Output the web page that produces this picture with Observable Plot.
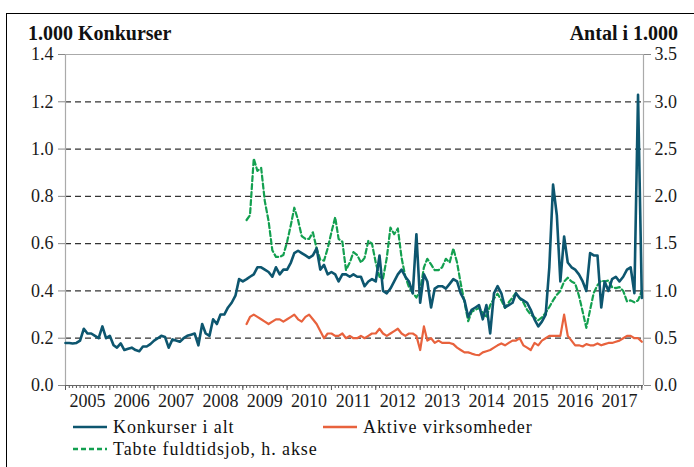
<!DOCTYPE html>
<html><head><meta charset="utf-8">
<script src="https://cdn.jsdelivr.net/npm/d3@7"></script>
<script src="https://cdn.jsdelivr.net/npm/@observablehq/plot@0.6"></script>
<style>
body{margin:0;background:#fff;}
#wrap{position:relative;width:694px;height:467px;overflow:hidden;font-family:"Liberation Serif","Times New Roman",Tinos,"DejaVu Serif",serif;color:#111;}
#frame{position:absolute;left:6px;top:13px;width:720px;height:480px;border-top:1.5px solid #000;border-left:1.5px solid #000;}
.title{position:absolute;font-weight:bold;font-size:20px;top:23px;line-height:20px;white-space:nowrap;}
#chart{position:absolute;left:0;top:0;}
.leg{position:absolute;font-size:18px;letter-spacing:0.9px;display:flex;align-items:center;white-space:nowrap;line-height:18px;}
.leg svg{margin-right:6px;}
</style></head><body>
<div id="wrap">
  <div id="frame"></div>
  <div class="title" style="left:28px;">1.000 Konkurser</div>
  <div class="title" style="right:16px;">Antal i 1.000</div>
  <div id="chart"></div>
  <div id="legend"></div>
</div>
<script>
// ---- data (monthly) ----
const konkurserStart = "2005-01";
const konkurser = [
0.18,0.18,0.178,0.18,0.19,0.24,0.22,0.22,0.21,0.2,
0.25,0.2,0.21,0.17,0.16,0.178,0.15,0.155,0.16,0.15,
0.145,0.165,0.165,0.175,0.19,0.2,0.21,0.205,0.16,0.195,
0.19,0.185,0.2,0.21,0.215,0.22,0.17,0.26,0.22,0.21,
0.28,0.26,0.3,0.3,0.33,0.35,0.38,0.45,0.44,0.45,
0.46,0.47,0.5,0.5,0.49,0.48,0.46,0.5,0.47,0.49,
0.49,0.52,0.56,0.57,0.56,0.55,0.54,0.55,0.58,0.49,
0.51,0.47,0.48,0.47,0.44,0.47,0.47,0.46,0.47,0.46,
0.46,0.42,0.44,0.45,0.44,0.55,0.4,0.39,0.41,0.44,
0.47,0.49,0.46,0.44,0.39,0.64,0.35,0.47,0.44,0.33,
0.41,0.42,0.42,0.41,0.43,0.45,0.44,0.39,0.36,0.29,
0.32,0.33,0.34,0.28,0.34,0.22,0.39,0.42,0.39,0.33,
0.34,0.35,0.39,0.37,0.36,0.35,0.32,0.28,0.25,0.27,
0.3,0.5,0.85,0.72,0.44,0.63,0.52,0.5,0.49,0.47,
0.44,0.4,0.56,0.55,0.55,0.33,0.44,0.4,0.45,0.46,
0.44,0.46,0.49,0.5,0.39,1.23,0.37
];
const aktiveStart = "2009-02";
const aktive = [
0.26,0.29,0.3,0.29,0.28,0.27,0.26,0.27,0.28,0.28,
0.27,0.28,0.29,0.3,0.28,0.27,0.29,0.3,0.28,0.26,
0.23,0.2,0.22,0.22,0.21,0.21,0.22,0.2,0.21,0.2,
0.2,0.21,0.2,0.21,0.22,0.22,0.24,0.22,0.21,0.22,
0.23,0.24,0.22,0.21,0.22,0.22,0.21,0.15,0.25,0.19,
0.2,0.18,0.19,0.18,0.18,0.18,0.175,0.16,0.15,0.14,
0.14,0.135,0.13,0.128,0.14,0.145,0.15,0.16,0.17,0.178,
0.17,0.18,0.19,0.19,0.2,0.17,0.16,0.15,0.18,0.17,
0.19,0.2,0.21,0.21,0.21,0.21,0.3,0.21,0.19,0.17,
0.17,0.165,0.175,0.17,0.17,0.178,0.17,0.175,0.18,0.18,
0.185,0.19,0.2,0.21,0.21,0.2,0.2,0.185
];
const tabteStart = "2009-02";
const tabte = [ // right axis (antal i 1.000)
1.75,1.8,2.4,2.27,2.3,1.95,1.74,1.43,1.36,1.36,
1.38,1.52,1.7,1.88,1.75,1.58,1.55,1.55,1.62,1.45,
1.33,1.32,1.45,1.62,1.78,1.55,1.52,1.22,1.3,1.41,
1.38,1.3,1.35,1.53,1.5,1.3,1.15,1.13,1.35,1.67,
1.6,1.66,1.35,1.15,1.04,0.98,0.93,1.0,1.25,1.34,
1.28,1.22,1.22,1.25,1.34,1.3,1.45,1.3,1.08,0.88,
0.68,0.78,0.8,0.82,0.77,0.72,0.85,0.92,0.97,0.9,
0.82,0.88,0.93,0.98,0.92,0.88,0.8,0.75,0.72,0.69,
0.72,0.77,0.83,0.9,0.96,1.0,1.1,1.14,1.1,1.08,
0.95,0.78,0.61,0.8,0.98,1.06,1.11,1.1,1.11,1.04,
1.03,1.04,1.0,0.89,0.9,0.88,0.9,1.0
];
const yearLabels = ["2005","2006","2007","2008","2009","2010","2011","2012","2013","2014","2015","2016","2017"];
const leftTicks = [0, 0.2, 0.4, 0.6, 0.8, 1.0, 1.2, 1.4];
const rightPerLeft = 2.5; // 3.5 on right axis == 1.4 on left axis
const seriesNames = ["Konkurser i alt", "Aktive virksomheder", "Tabte fuldtidsjob, h. akse"];
const colors = ["#0d566f", "#e8623d", "#13a050"];

// ---- build tables ----
const parseM = d3.utcParse("%Y-%m");
function table(startStr, values) {
  const s = parseM(startStr);
  return values.map((v, i) => ({date: d3.utcMonth.offset(s, i), value: v}));
}
const kData = table(konkurserStart, konkurser);
const aData = table(aktiveStart, aktive);
const tData = table(tabteStart, tabte);

const xDomain = [new Date(Date.UTC(2005,0,1)), new Date(Date.UTC(2018,0,15))];
const monthTicks = d3.utcMonth.range(xDomain[0], xDomain[1]);
const yearTicks = d3.utcYear.range(xDomain[0], xDomain[1]);
const labelDates = yearLabels.map(y => new Date(Date.UTC(+y, 6, 1)));
const FONT = '"Liberation Serif","Times New Roman",Tinos,"DejaVu Serif",serif';

const chart = Plot.plot({
  width: 694, height: 420,
  marginLeft: 65, marginRight: 51, marginTop: 54, marginBottom: 35,
  style: {fontFamily: FONT, fontSize: "18px", color: "#1a1a1a", background: "transparent"},
  x: {type: "utc", domain: xDomain},
  y: {domain: [0, 1.4]},
  marks: [
    Plot.ruleY(leftTicks.filter(d => d > 0 && d < 1.4), {stroke: "#333", strokeWidth: 1.2, strokeDasharray: "6,4"}),
    Plot.ruleY([1.4], {stroke: "#aaa"}),
    Plot.ruleX(xDomain, {stroke: "#aaa", strokeWidth: 1.2}),
    Plot.axisY(leftTicks, {anchor: "left", label: null, tickFormat: d => d.toFixed(1), tickSize: 7, tickPadding: 5, stroke: "#888", fill: "#1a1a1a"}),
    Plot.axisY(leftTicks, {anchor: "right", label: null, tickFormat: d => (d * rightPerLeft).toFixed(1), tickSize: 7, tickPadding: 4, stroke: "#888", fill: "#1a1a1a"}),
    Plot.axisX(monthTicks, {label: null, tickSize: 3, tickFormat: () => "", stroke: "#555"}),
    Plot.axisX(yearTicks, {label: null, tickSize: 5, tickFormat: () => "", stroke: "#555"}),
    Plot.axisX(labelDates, {label: null, tickSize: 0, tickPadding: 9, tickFormat: d3.utcFormat("%Y"), fill: "#1a1a1a"}),
    Plot.ruleY([0], {stroke: "#666", strokeWidth: 1.2}),
    Plot.line(tData, {x: "date", y: d => d.value / rightPerLeft, stroke: colors[2], strokeWidth: 2.2, strokeDasharray: "5,3"}),
    Plot.line(aData, {x: "date", y: "value", stroke: colors[1], strokeWidth: 2.2}),
    Plot.line(kData, {x: "date", y: "value", stroke: colors[0], strokeWidth: 2.6})
  ]
});
document.getElementById("chart").appendChild(chart);

// ---- legend ----
const legPos = [{left: 73, top: 418}, {left: 323, top: 418}, {left: 73, top: 440}];
const leg = document.getElementById("legend");
seriesNames.forEach((name, i) => {
  const div = document.createElement("div");
  div.className = "leg";
  div.style.left = legPos[i].left + "px";
  div.style.top = legPos[i].top + "px";
  const dash = i === 2 ? ' stroke-dasharray="5,3"' : '';
  div.innerHTML = `<svg width="34" height="10"><line x1="0" y1="5" x2="34" y2="5" stroke="${colors[i]}" stroke-width="2.6"${dash}/></svg><span>${name}</span>`;
  leg.appendChild(div);
});
</script>
</body></html>
